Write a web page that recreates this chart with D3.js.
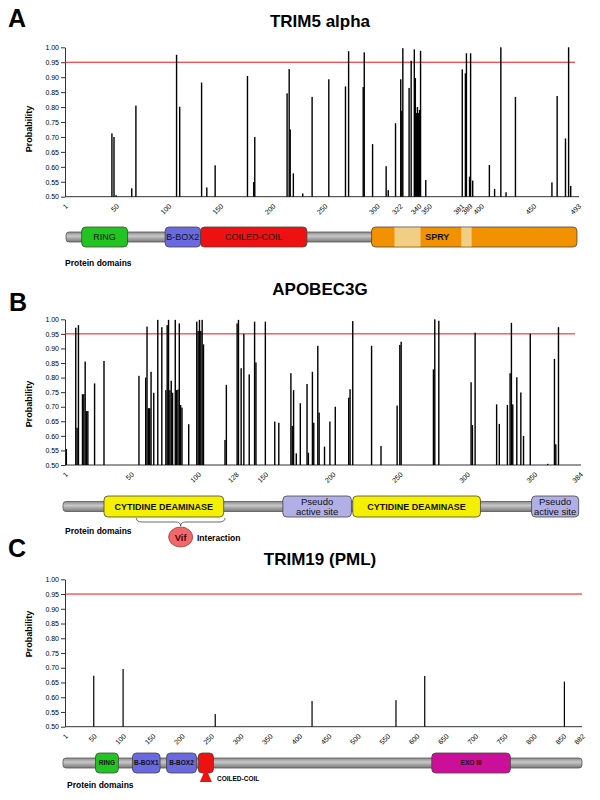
<!DOCTYPE html>
<html><head><meta charset="utf-8">
<script src="https://cdn.jsdelivr.net/npm/d3@7"></script>
<style>body{margin:0;background:#fff}text{font-family:"Liberation Sans",Arial,sans-serif}</style>
</head><body><svg id="c" width="600" height="800"></svg>
<script>
// ---------- DATA ----------
const yTicks = [0.50,0.55,0.60,0.65,0.70,0.75,0.80,0.85,0.90,0.95,1.00];
const threshold = 0.95;

// Panel A: TRIM5 alpha
const trim5Title = "TRIM5 alpha";
const trim5Length = 493;
const trim5Ticks = [1,50,100,150,200,250,300,322,340,350,381,389,400,450,493];
const trim5Pos  = [46,48,50,65,69,108,111,132,137,145,176,182,183,214,216,217,220,229,238,254,270,273,287,288,296,309,311,318,323,324,325,331,333,336,337,338,339,340,341,342,347,382,385,386,389,390,392,408,413,419,424,433,468,473,481,484,486];
const trim5Prob = [0.712,0.700,0.505,0.528,0.805,0.975,0.801,0.882,0.531,0.605,0.904,0.549,0.700,0.846,0.927,0.725,0.578,0.511,0.834,0.893,0.869,0.987,0.867,0.983,0.676,0.602,0.522,0.746,0.893,0.787,0.997,0.864,0.955,0.993,0.897,0.780,0.800,0.780,0.790,0.988,0.556,0.926,0.913,0.980,0.567,0.980,0.554,0.606,0.526,1.000,0.515,0.834,0.548,0.837,0.695,1.000,0.536];
const trim5DomainNames = ["RING","B-BOX2","COILED-COIL","SPRY"];
const trim5DomainStart = [17,97,131,295];
const trim5DomainEnd   = [61,131,233,492];
const trim5VarStart = [317,381];
const trim5VarEnd   = [342,391];

// Panel B: APOBEC3G
const apoTitle = "APOBEC3G";
const apoLength = 384;
const apoTicks = [1,50,100,128,150,200,250,300,350,384];
const apoPos  = [2,9,10,11,14,15,16,17,18,23,30,56,61,62,63,64,65,67,70,73,76,77,78,79,80,81,83,84,85,86,87,88,93,99,100,101,102,103,104,120,121,129,130,132,134,138,142,143,150,157,160,169,170,171,173,176,181,182,185,186,189,190,194,198,202,212,213,215,229,236,248,250,251,275,276,279,303,304,306,322,324,330,332,333,334,337,340,342,347,360,365,366,368];
const apoProb = [0.555,0.971,0.628,0.980,0.743,0.743,0.855,0.685,0.685,0.780,0.857,0.806,0.800,0.975,0.695,0.695,0.820,0.748,0.998,0.973,0.757,0.980,0.998,0.757,0.789,0.748,0.998,0.757,0.759,0.986,0.706,0.697,0.640,0.992,0.960,0.998,0.960,0.998,0.914,0.586,0.775,0.986,0.998,0.832,0.950,0.811,0.992,0.852,0.992,0.649,0.645,0.815,0.634,0.757,0.540,0.712,0.778,0.542,0.820,0.645,0.909,0.680,0.563,0.649,0.700,0.731,0.760,0.994,0.909,0.565,0.704,0.912,0.923,0.828,1.000,0.995,0.784,0.637,0.954,0.708,0.641,0.706,0.815,0.988,0.708,0.801,0.749,0.600,0.950,0.504,0.864,0.571,0.973];
const apoDomainNames = ["CYTIDINE DEAMINASE","Pseudo|active site","CYTIDINE DEAMINASE","Pseudo|active site"];
const apoDomainStart = [30,163,215,348];
const apoDomainEnd   = [119,214,310,383];
const apoVifStart = 54, apoVifEnd = 120, apoVifLabel = "Vif", apoVifText = "Interaction";

// Panel C: TRIM19 (PML)
const pmlTitle = "TRIM19 (PML)";
const pmlLength = 882;
const pmlTicks = [1,50,100,150,200,250,300,350,400,450,500,550,600,650,700,750,800,850,882];
const pmlPos  = [50,100,257,422,565,614,852];
const pmlProb = [0.673,0.696,0.543,0.587,0.590,0.672,0.653];
const pmlDomainNames = ["RING","B-BOX1","B-BOX2","","EXO III"];
const pmlDomainStart = [53,116,174,228,626];
const pmlDomainEnd   = [92,163,225,254,760];
const pmlCoilLabel = "COILED-COIL";

// ---------- STYLES ----------
const domainColor = {
  "RING":"#22c422","B-BOX1":"#6a6ae0","B-BOX2":"#6a6ae0","COILED-COIL":"#ee1111","":"#ee1111",
  "SPRY":"#f39200","CYTIDINE DEAMINASE":"#f5f000","Pseudo|active site":"#b0b0e6","EXO III":"#cc0f99"
};

const svg = d3.select("#c");
const defs = svg.append("defs");
const g1 = defs.append("linearGradient").attr("id","bb").attr("x1",0).attr("x2",0).attr("y1",0).attr("y2",1);
g1.append("stop").attr("offset","0%").attr("stop-color","#8a8a8a");
g1.append("stop").attr("offset","40%").attr("stop-color","#c8c8c8");
g1.append("stop").attr("offset","100%").attr("stop-color","#777");

function drawPanel(cfg){
  const g = svg.append("g");
  const x = d3.scaleLinear().domain([1,cfg.length]).range([cfg.left,cfg.right]);
  const y = d3.scaleLinear().domain([0.5,1]).range([cfg.yBot,cfg.yTop]);
  g.append("text").attr("x",cfg.letterX).attr("y",cfg.letterY).text(cfg.letter)
    .style("font-size","25px").style("font-weight","bold");
  g.append("text").attr("x",320).attr("y",cfg.titleY).attr("text-anchor","middle").text(cfg.title)
    .style("font-size","17px").style("font-weight","bold");
  // y axis
  const ya = g.append("g").attr("transform",`translate(${cfg.left},0)`)
    .call(d3.axisLeft(y).tickValues(yTicks).tickFormat(d3.format(".2f")).tickSize(4).tickSizeOuter(0).tickPadding(2));
  ya.selectAll("text").style("font-size","7px").style("font-family","Liberation Sans, Arial");
  ya.selectAll("line,path").attr("stroke","#333");
  g.append("text").attr("transform",`translate(32,${cfg.ylabY}) rotate(-90)`).attr("text-anchor","middle")
    .text("Probability").style("font-size","9px").style("font-weight","bold");
  // x axis
  const xa = g.append("g").attr("transform",`translate(0,${cfg.yBot})`)
    .call(d3.axisBottom(x).tickValues(cfg.ticks).tickSize(0).tickSizeOuter(0).tickFormat(d3.format("d")));
  xa.select("path").attr("stroke","#333").attr("d",`M${cfg.left},0H${cfg.axisEnd}`);
  xa.selectAll("text").attr("y",0).attr("dy",0).attr("transform","translate(3,10) rotate(-45)")
    .style("text-anchor","end").style("font-size","7px").style("font-family","Liberation Sans, Arial");
  // threshold
  g.append("line").attr("x1",cfg.left).attr("x2",cfg.redEnd).attr("y1",y(threshold)).attr("y2",y(threshold))
    .attr("stroke","#e8141a").attr("stroke-width",1);
  // bars
  g.append("g").selectAll("rect").data(cfg.pos.map((p,i)=>[p,cfg.prob[i]])).join("rect")
    .attr("x",d=>x(d[0])-cfg.barW/2).attr("width",cfg.barW)
    .attr("y",d=>y(d[1])).attr("height",d=>y(0.5)-y(d[1])).attr("fill","#000");
  return {g,x,y};
}

// ---- Panel A ----
{
  const {g,x} = drawPanel({letter:"A",letterX:8,letterY:27,title:trim5Title,titleY:27,length:trim5Length,
    left:65,right:578,axisEnd:579,redEnd:575,yTop:47.3,yBot:196.7,ylabY:129,ticks:trim5Ticks,
    pos:trim5Pos,prob:trim5Prob,barW:1.4});
  const cy = 237;
  g.append("rect").attr("x",x(2)).attr("width",x(300)-x(2)).attr("y",cy-5).attr("height",10)
    .attr("rx",3).attr("fill","url(#bb)").attr("stroke","#555").attr("stroke-width",0.8);
  trim5DomainNames.forEach((n,i)=>{
    const x0=x(trim5DomainStart[i]), x1=x(trim5DomainEnd[i]);
    g.append("rect").attr("x",x0).attr("width",x1-x0).attr("y",cy-10).attr("height",20).attr("rx",4)
      .attr("fill",domainColor[n]).attr("stroke","#444").attr("stroke-width",0.8);
    if(n==="SPRY"){
      trim5VarStart.forEach((s,j)=>{
        g.append("rect").attr("x",x(s)).attr("width",x(trim5VarEnd[j])-x(s)).attr("y",cy-9.5).attr("height",19)
          .attr("fill","#f0cf85");
      });
    }
    g.append("text").attr("x",n==="SPRY"?x(358):(x0+x1)/2).attr("y",cy+3.3).attr("text-anchor","middle").text(n)
      .style("font-size","9px").style("font-weight",n==="SPRY"?"bold":"normal").attr("fill","#111");
  });
  g.append("text").attr("x",65).attr("y",266).text("Protein domains").style("font-size","8.5px").style("font-weight","bold");
}

// ---- Panel B ----
{
  const {g,x} = drawPanel({letter:"B",letterX:9,letterY:311,title:apoTitle,titleY:295,length:apoLength,
    left:65,right:580,axisEnd:581,redEnd:575,yTop:319.3,yBot:465,ylabY:404,ticks:apoTicks,
    pos:apoPos,prob:apoProb,barW:1.4});
  const cy = 506.5;
  g.append("rect").attr("x",63).attr("width",x(375)-63).attr("y",cy-5).attr("height",10)
    .attr("rx",3).attr("fill","url(#bb)").attr("stroke","#555").attr("stroke-width",0.8);
  apoDomainNames.forEach((n,i)=>{
    const x0=x(apoDomainStart[i]), x1=x(apoDomainEnd[i]);
    g.append("rect").attr("x",x0).attr("width",x1-x0).attr("y",cy-10.5).attr("height",21).attr("rx",4)
      .attr("fill",domainColor[n]).attr("stroke","#444").attr("stroke-width",0.8);
    const lines = n.split("|");
    lines.forEach((l,k)=>{
      g.append("text").attr("x",(x0+x1)/2).attr("y",cy+3.3+(lines.length>1?(k===0?-4.5:5.5):0))
        .attr("text-anchor","middle").text(l).style("font-size",lines.length>1?"9.5px":"9px")
        .style("font-weight",lines.length>1?"normal":"bold").attr("fill","#111");
    });
  });
  // brace
  const bx0=x(apoVifStart), bx1=x(apoVifEnd), bm=(bx0+bx1)/2, by=518;
  g.append("path").attr("d",`M${bx0},${by} Q${bx0},${by+4} ${bx0+6},${by+4} L${bm-5},${by+4} Q${bm},${by+4} ${bm},${by+8} Q${bm},${by+4} ${bm+5},${by+4} L${bx1-6},${by+4} Q${bx1},${by+4} ${bx1},${by}`)
    .attr("fill","none").attr("stroke","#444").attr("stroke-width",0.8);
  g.append("ellipse").attr("cx",bm).attr("cy",537).attr("rx",12).attr("ry",10)
    .attr("fill","#ee6a6a").attr("stroke","#a33").attr("stroke-width",0.8);
  g.append("text").attr("x",bm).attr("y",540.5).attr("text-anchor","middle").text(apoVifLabel)
    .style("font-size","9.5px").style("font-weight","bold").attr("fill","#5a0000");
  g.append("text").attr("x",197).attr("y",541).text(apoVifText).style("font-size","8.5px").style("font-weight","bold");
  g.append("text").attr("x",65).attr("y",534).text("Protein domains").style("font-size","8.5px").style("font-weight","bold");
}

// ---- Panel C ----
{
  const {g,x} = drawPanel({letter:"C",letterX:8,letterY:557,title:pmlTitle,titleY:565,length:pmlLength,
    left:65,right:582,axisEnd:582,redEnd:582,yTop:579.3,yBot:726.7,ylabY:634,ticks:pmlTicks,
    pos:pmlPos,prob:pmlProb,barW:1.2});
  const cy = 763;
  g.append("rect").attr("x",63).attr("width",x(882)-63).attr("y",cy-5).attr("height",10)
    .attr("rx",3).attr("fill","url(#bb)").attr("stroke","#555").attr("stroke-width",0.8);
  pmlDomainNames.forEach((n,i)=>{
    const x0=x(pmlDomainStart[i]), x1=x(pmlDomainEnd[i]);
    g.append("rect").attr("x",x0).attr("width",x1-x0).attr("y",cy-10).attr("height",20).attr("rx",4)
      .attr("fill",domainColor[n]).attr("stroke","#444").attr("stroke-width",0.8);
    if(n) g.append("text").attr("x",(x0+x1)/2).attr("y",cy+2.3).attr("text-anchor","middle").text(n)
      .style("font-size","6.5px").style("font-weight","bold").attr("fill","#111");
  });
  const tx = x((pmlDomainStart[3]+pmlDomainEnd[3])/2);
  g.append("path").attr("d",`M${tx},${cy+5} L${tx+6},${cy+19} L${tx-6},${cy+19} Z`).attr("fill","#ee1111");
  g.append("text").attr("x",217).attr("y",781).text(pmlCoilLabel).style("font-size","6.5px").style("font-weight","bold");
  g.append("text").attr("x",67).attr("y",788).text("Protein domains").style("font-size","8.5px").style("font-weight","bold");
}
</script></body></html>
